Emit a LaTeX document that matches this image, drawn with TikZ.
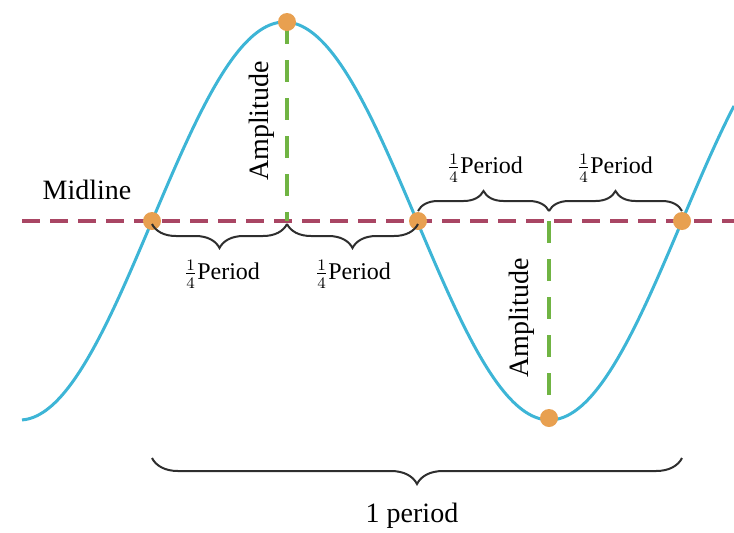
\documentclass[tikz,border=0pt]{standalone}
\usepackage{fontspec}
\setmainfont{Liberation Serif}
\usetikzlibrary{decorations.pathreplacing}
\definecolor{curveblue}{HTML}{3DB5D6}
\definecolor{midred}{HTML}{A94664}
\definecolor{ampgreen}{HTML}{70B443}
\definecolor{dotorange}{HTML}{E8A050}
\definecolor{bracegray}{HTML}{2E2E2E}
\tikzset{
  dot/.style={circle, fill=dotorange, inner sep=0pt, minimum size=9pt},
  midlinestyle/.style={midred, line width=1.6pt, dash pattern=on 9pt off 5pt},
  ampline/.style={ampgreen, line width=2pt, dash pattern=on 11pt off 8pt},
  curvestyle/.style={curveblue, line width=1.5pt},
  bracestyle/.style={bracegray, line width=1pt, decorate},
  lbl/.style={font=\fontsize{14}{16}\selectfont, inner sep=1pt},
  qlbl/.style={font=\fontsize{12}{14}\selectfont, inner sep=1pt},
}
\begin{document}
\begin{tikzpicture}[x=0.5pt, y=-0.5pt]
\useasboundingbox (0,0) rectangle (734,532);
% midline
\coordinate (ml0) at (22,221);
\coordinate (ml1) at (734,221);
\draw[midlinestyle] (ml0) -- (ml1);
% curve
\draw[curvestyle] plot[domain=22:734, samples=240, smooth] ({\x}, {221-199*sin((\x-152)*0.6792453)});
% key points
\coordinate (m1) at (287,221);
\coordinate (m2) at (549,221);
\draw[ampline] (287,22) coordinate (pk) -- (m1);
\draw[ampline] (m2) -- (549,418) coordinate (tr);
\node[dot] (z1) at (152,221) {};
\node[dot] (peak) at (pk) {};
\node[dot] (z2) at (418,221) {};
\node[dot] (trough) at (tr) {};
\node[dot] (z3) at (682,221) {};
% braces below midline
\draw[bracestyle, decoration={brace, amplitude=12pt, raise=1.5pt}] (m1) -- (z1.center);
\draw[bracestyle, decoration={brace, amplitude=12pt, raise=1.5pt}] (z2.center) -- (m1);
% braces above midline
\draw[bracestyle, decoration={brace, amplitude=10pt, raise=5pt}] (z2.center) -- (m2);
\draw[bracestyle, decoration={brace, amplitude=10pt, raise=5pt}] (m2) -- (z3.center);
% big brace
\coordinate (b1) at (152,458);
\coordinate (b2) at (682,458);
\draw[bracestyle, decoration={brace, amplitude=13pt}] (b2) -- (b1);
% labels
\node[lbl] (midlbl) at (87,190) {Midline};
\node[lbl, rotate=90] (amp1) at (262,121) {Amplitude};
\node[lbl, rotate=90] (amp2) at (522,318) {Amplitude};
\node[qlbl] (q1) at (222,274) {$\frac{1}{4}$Period};
\node[qlbl] (q2) at (353,274) {$\frac{1}{4}$Period};
\node[qlbl] (q3) at (485,168) {$\frac{1}{4}$Period};
\node[qlbl] (q4) at (615,168) {$\frac{1}{4}$Period};
\node[lbl] (per) at (412,516) {1 period};
\end{tikzpicture}
\end{document}
